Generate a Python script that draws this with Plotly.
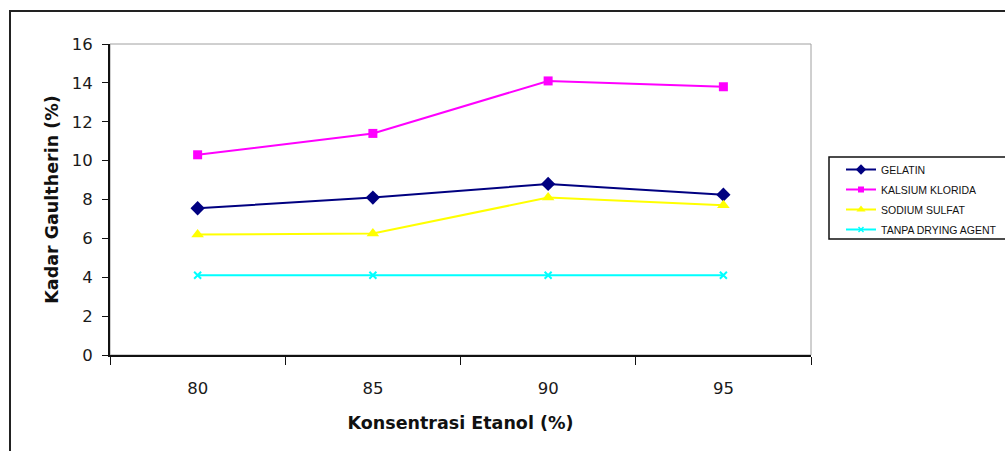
import plotly.graph_objects as go

# Ethanol concentration categories (%)
konsentrasi = ["80", "85", "90", "95"]

# Gaultherin content (%) per drying agent
gelatin = [7.55, 8.1, 8.8, 8.25]
kalsium_klorida = [10.3, 11.4, 14.1, 13.8]
sodium_sulfat = [6.2, 6.25, 8.1, 7.7]
tanpa_drying_agent = [4.1, 4.1, 4.1, 4.1]

y_ticks = [0, 2, 4, 6, 8, 10, 12, 14, 16]

# name, values, colour, marker symbol, marker size (plot), marker size (legend)
series = [
    ("GELATIN", gelatin, "#000080", "diamond", 11, 8),
    ("KALSIUM KLORIDA", kalsium_klorida, "#FF00FF", "square", 9, 6),
    ("SODIUM SULFAT", sodium_sulfat, "#FFFF00", "triangle-up", 11, 8),
    ("TANPA DRYING AGENT", tanpa_drying_agent, "#00FFFF", "x-thin-open", 7, 5),
]

fig = go.Figure()
for name, vals, color, symbol, size, lsize in series:
    fig.add_trace(go.Scatter(
        x=konsentrasi, y=vals, name=name, mode="lines+markers",
        line=dict(color=color, width=2),
        marker=dict(symbol=symbol, size=size, color=color,
                    line=dict(color=color, width=2 if "x" in symbol else 0)),
        showlegend=False, legendgroup=name,
    ))
    # legend key with smaller marker
    fig.add_trace(go.Scatter(
        x=[None], y=[None], name=name, mode="lines+markers",
        line=dict(color=color, width=2),
        marker=dict(symbol=symbol, size=lsize, color=color,
                    line=dict(color=color, width=1.5 if "x" in symbol else 0)),
        legendgroup=name,
    ))

W, H = 1005, 451
L, R, T, B = 110, 194, 44, 96
pw, ph = W - L - R, H - T - B

def px_x(p):
    return (p - L) / pw

def px_y(p):
    return (H - B - p) / ph

title_font = dict(family="DejaVu Sans, Arial, sans-serif", size=17.5, color="#111")
tick_font = dict(family="DejaVu Sans, Arial, sans-serif", size=16.5, color="#1a1a1a")

fig.update_layout(
    width=W, height=H,
    margin=dict(l=L, r=R, t=T, b=B, autoexpand=False),
    paper_bgcolor="white", plot_bgcolor="white",
    font=dict(family="DejaVu Sans, Arial, sans-serif", color="#1a1a1a"),
    showlegend=True,
    legend=dict(
        x=px_x(841), y=px_y(155), xanchor="left", yanchor="top",
        bgcolor="rgba(0,0,0,0)", borderwidth=0,
        font=dict(size=10.5, family="Liberation Sans, Arial", color="#111"),
        traceorder="grouped", tracegroupgap=1,
    ),
    xaxis=dict(
        type="category", range=[-0.5, 3.5],
        tickson="boundaries", ticks="outside", ticklen=8,
        tickwidth=1, tickcolor="#111",
        showline=True, linecolor="#111", linewidth=2,
        showgrid=False, zeroline=False,
        tickfont=tick_font, ticklabelstandoff=17,
        title=dict(text="<b>Konsentrasi Etanol (%)</b>", font=title_font, standoff=20),
    ),
    yaxis=dict(
        range=[0, 16], tickvals=y_ticks, ticks="outside", ticklen=6,
        tickwidth=1, tickcolor="#111",
        showline=True, linecolor="#111", linewidth=2,
        showgrid=False, zeroline=False,
        tickfont=tick_font, ticklabelstandoff=6,
        title=dict(text="<b>Kadar Gaultherin (%)</b>", font=title_font, standoff=9),
    ),
    shapes=[
        # plot area frame (top and right edges)
        dict(type="rect", xref="paper", yref="paper", x0=0, x1=1, y0=0, y1=1,
             line=dict(color="#a0a0a0", width=1), layer="below"),
        # legend frame
        dict(type="rect", xref="paper", yref="paper",
             x0=px_x(829), x1=px_x(1015), y0=px_y(239), y1=px_y(157),
             line=dict(color="#111", width=1.5), layer="below"),
        # chart frame
        dict(type="rect", xref="paper", yref="paper",
             x0=px_x(10), x1=px_x(1015), y0=px_y(470), y1=px_y(11),
             line=dict(color="#222", width=2), layer="below"),
    ],
)

fig.write_html("out.html")
